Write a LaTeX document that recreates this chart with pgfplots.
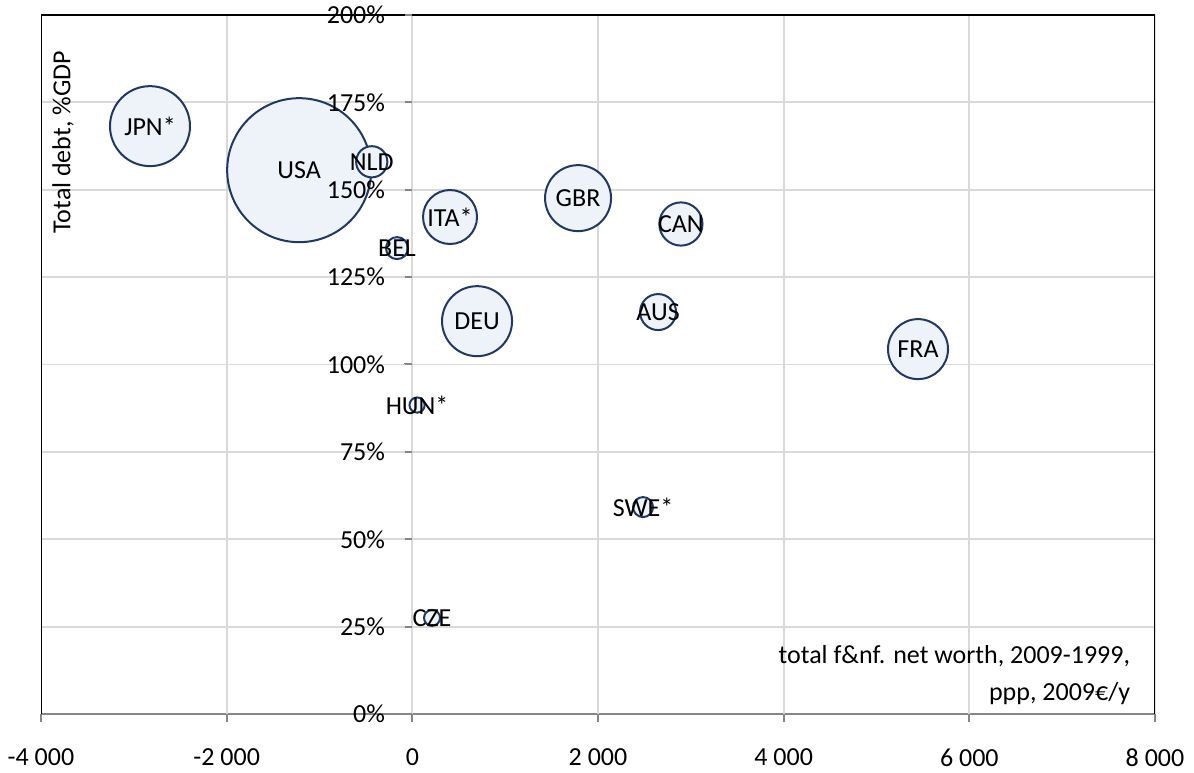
\documentclass[border=0pt]{standalone}
\usepackage{fontspec}
\setmainfont{Carlito}
\usepackage{pgfplots}
\pgfplotsset{compat=1.18}
\usepackage{pgfplotstable}
\definecolor{bubfill}{RGB}{238,242,249}
\definecolor{bubdraw}{RGB}{31,56,100}
\definecolor{gridc}{RGB}{217,217,217}
\definecolor{axc}{RGB}{134,134,134}

\pgfplotstableread{
label x y r
USA -1219 155.6 36
JPN* -2826 168.2 20
DEU 697 112.4 17.5
GBR 1785 147.6 16.5
FRA 5447 104.4 15
ITA* 406 142.2 13.5
CAN 2893 140.2 10.8
AUS 2647 115.0 9
NLD -437 158.0 7.8
BEL -165 133.3 5.5
SWE* 2485 59.2 5
CZE 212 27.5 4
HUN* 51 88.4 3.8
}\bubbles

\begin{document}
\begin{tikzpicture}
\useasboundingbox (0,0) rectangle (597pt,386pt);
\begin{axis}[
  at={(20.5pt,29pt)}, anchor=south west,
  scale only axis, width=557pt, height=349.5pt,
  xmin=-4000, xmax=8000, ymin=0, ymax=200,
  axis x line=bottom, axis y line=middle,
  axis line style={axc, line width=1pt, -},
  xtick={-4000,-2000,...,8000},
  xticklabels={-4 000,-2 000,0,2 000,4 000,6 000,8 000},
  ytick={0,25,...,200},
  yticklabels={},
  tick align=outside, major tick length=4pt,
  tick style={axc, line width=1pt},
  hide obscured x ticks=false, hide obscured y ticks=false,
  every tick label/.append style={font=\fontsize{13}{16}\selectfont, text=black},
  xticklabel style={yshift=-10pt},
]
\pgfplotsinvokeforeach{-2000,0,2000,4000,6000}{\draw[gridc, line width=0.9pt] (axis cs:#1,0) -- (axis cs:#1,200);}
\pgfplotsinvokeforeach{25,50,...,175}{\draw[gridc, line width=0.9pt] (axis cs:-4000,#1) -- (axis cs:8000,#1);}
\draw[black, line width=1pt] (rel axis cs:0,0) -- (rel axis cs:0,1) -- (rel axis cs:1,1) -- (rel axis cs:1,0);
\addplot[
  scatter, only marks, mark=*, line width=1pt,
  point meta=\thisrow{r},
  visualization depends on={\thisrow{r} \as \rr},
  scatter/use mapped color={draw=bubdraw, fill=bubfill, line width=1pt},
  scatter/@pre marker code/.append style={/tikz/mark size=\rr pt, /tikz/line width=1pt},
  mark options={line width=1pt},
] table[x=x, y=y] {\bubbles};
\pgfplotsinvokeforeach{0,25,...,200}{
  \draw[axc, line width=1pt] (axis cs:0,#1) -- (axis cs:-80,#1);
  \coordinate (yt#1) at (axis cs:0,#1);
}
\addplot[
  only marks, mark=none,
  point meta=explicit symbolic,
  nodes near coords,
  every node near coord/.append style={anchor=center, text=black, font=\fontsize{13}{16}\selectfont},
] table[x=x, y=y, meta=label] {\bubbles};
\node[rotate=90, font=\fontsize{13}{16}\selectfont] at (rel axis cs:0.0197,0.818) {Total debt, \%GDP};
\node[anchor=east, align=right, font=\fontsize{13}{18.5}\selectfont] at (rel axis cs:0.984,0.056) {total f\&nf. net worth, 2009-1999,\\ppp, 2009€/y};
\end{axis}
\foreach \v in {0,25,50,75,100,125,150,175,200}{
  \node[anchor=east, inner sep=0pt, xshift=-13.5pt, font=\fontsize{13}{16}\selectfont] at (yt\v) {\v\%};
}
\end{tikzpicture}
\end{document}
